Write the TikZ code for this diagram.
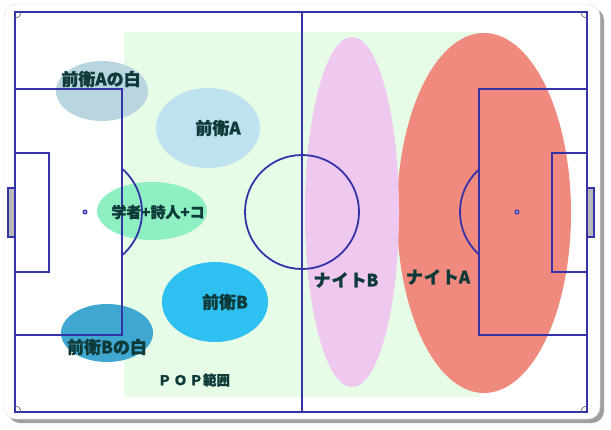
\documentclass[tikz,border=0pt]{standalone}
\usepackage{fontspec}
\newfontfamily\jpfont{Noto Sans CJK JP}[FakeBold=1.2]
\usepackage{tikz}
\usetikzlibrary{positioning,shadows}
\definecolor{pitchline}{HTML}{3434A8}
\definecolor{popgreen}{HTML}{E6FCE6}
\definecolor{knightb}{HTML}{EEC8EE}
\definecolor{knighta}{HTML}{F08A7E}
\definecolor{fwa}{HTML}{BEE2EF}
\definecolor{fwawhite}{HTML}{B8D5E0}
\definecolor{scholar}{HTML}{8EF0C2}
\definecolor{fwb}{HTML}{2EC0F0}
\definecolor{fwbwhite}{HTML}{40A8D0}
\definecolor{labeltext}{HTML}{0F3A3A}
\tikzset{
  card/.style={draw=gray!25, fill=white, rounded corners=12pt, drop shadow={shadow xshift=4pt, shadow yshift=-4pt, opacity=0.75}},
  fieldline/.style={draw=pitchline, line width=1.8pt},
  cornerarc/.style={draw=gray!80!black, line width=0.6pt},
  goalbox/.style={draw=pitchline, fill=gray!55, line width=1.5pt},
  zonelabel/.style={font=\jpfont\bfseries\fontsize{17}{17}\selectfont, text=labeltext, inner sep=0pt},
  smalllabel/.style={font=\jpfont\bfseries\fontsize{15}{15}\selectfont, text=labeltext, inner sep=0pt},
  poplabel/.style={font=\jpfont\bfseries\fontsize{13.5}{13.5}\selectfont, text=labeltext, inner sep=0pt}
}
\begin{document}
\begin{tikzpicture}[x=1pt, y=-1pt]
  \useasboundingbox (0,0) rectangle (611,429);
  \path[card] (4,4) rectangle (600,419);
  % range of POP
  \fill[popgreen] (124,32) rectangle (480,397);
  % zones
  \fill[knighta] (484,213) ellipse [x radius=87pt, y radius=180pt];
  \fill[knightb] (352,212) ellipse [x radius=47pt, y radius=175pt];
  \fill[fwawhite] (102,91) ellipse [x radius=46pt, y radius=30pt];
  \fill[fwa] (208,128) ellipse [x radius=52pt, y radius=40pt];
  \fill[scholar] (152,211) ellipse [x radius=55pt, y radius=29pt];
  \fill[fwb] (215,302) ellipse [x radius=53pt, y radius=40pt];
  \fill[fwbwhite] (107,333) ellipse [x radius=46pt, y radius=29pt];
  % pitch
  \draw[goalbox] (8,188) rectangle (15,237);
  \draw[goalbox] (587,188) rectangle (594,237);
  \draw[fieldline] (15,12) rectangle (587,412);
  \draw[fieldline] (302,12) -- (302,412);
  \draw[fieldline] (302,212) circle [radius=57pt];
  \draw[fieldline] (15,89) rectangle (122,335);
  \draw[fieldline] (479,89) rectangle (587,335);
  \draw[fieldline] (15,153) rectangle (49,272);
  \draw[fieldline] (552,153) rectangle (587,272);
  \begin{scope}
    \clip (122,100) rectangle (200,320);
    \draw[fieldline] (85,212) circle [radius=57pt];
  \end{scope}
  \begin{scope}
    \clip (400,100) rectangle (479,320);
    \draw[fieldline] (517,212) circle [radius=57pt];
  \end{scope}
  \draw[pitchline, fill=pitchline!50, line width=1pt] (85,212) circle [radius=2pt];
  \draw[pitchline, fill=pitchline!50, line width=1pt] (517,212) circle [radius=2pt];
  \begin{scope}
    \clip (15,12) rectangle (587,412);
    \foreach \cx/\cy in {15/12, 587/12, 15/412, 587/412}
      \draw[cornerarc] (\cx,\cy) circle [radius=6pt];
  \end{scope}
  % labels
  \node[zonelabel] (fwawhitetxt) at (101,79) {前衛Aの白};
  \node[zonelabel] (fwatxt) at (218,128) {前衛A};
  \node[smalllabel] (scholartxt) at (158,212) {学者+詩人+コ};
  \node[zonelabel] (fwbtxt) at (225,302) {前衛B};
  \node[zonelabel] (fwbwhitetxt) at (107,347) {前衛Bの白};
  \node[poplabel] (poptxt) at (194,380) {Ｐ\,Ｏ\,Ｐ範囲};
  \node[zonelabel] (knightbtxt) at (346,280) {ナ\hspace{1pt}イ\hspace{1pt}トB};
  \node[zonelabel] (knightatxt) at (438,277) {ナ\hspace{1pt}イ\hspace{1pt}トA};
\end{tikzpicture}
\end{document}
